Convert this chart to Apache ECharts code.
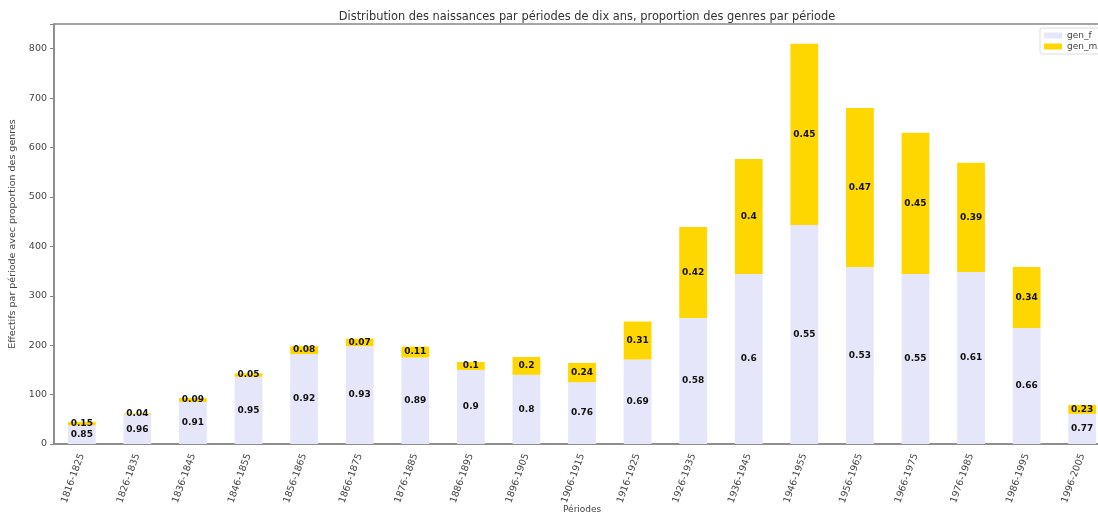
<!DOCTYPE html>
<html>
<head>
<meta charset="utf-8">
<title>Distribution des naissances</title>
<script src="https://cdn.jsdelivr.net/npm/echarts@6.0.0/dist/echarts.min.js"></script>
<style>
	html, body { margin: 0; padding: 0; background: #fff; }
	#main { width: 1098px; height: 517px; }
</style>
</head>
<body>
<div id="main"></div>
<script>
// périodes de dix ans
var periodes = ["1816-1825", "1826-1835", "1836-1845", "1846-1855", "1856-1865", "1866-1875",
	"1876-1885", "1886-1895", "1896-1905", "1906-1915", "1916-1925", "1926-1935", "1936-1945",
	"1946-1955", "1956-1965", "1966-1975", "1976-1985", "1986-1995", "1996-2005"]

// effectifs par genre
var genF = [38, 60, 85, 136, 182, 198, 175, 150, 140, 125, 171, 255, 344, 443, 358, 344, 348, 235, 61]
var genM = [7, 2, 8, 7, 16, 15, 22, 16, 36, 39, 77, 184, 233, 367, 322, 286, 221, 123, 18]

// proportions affichées sur les barres
var propF = [0.85, 0.96, 0.91, 0.95, 0.92, 0.93, 0.89, 0.9, 0.8, 0.76, 0.69, 0.58, 0.6, 0.55, 0.53, 0.55, 0.61, 0.66, 0.77]
var propM = [0.15, 0.04, 0.09, 0.05, 0.08, 0.07, 0.11, 0.1, 0.2, 0.24, 0.31, 0.42, 0.4, 0.45, 0.47, 0.45, 0.39, 0.34, 0.23]

var yTicks = [0, 100, 200, 300, 400, 500, 600, 700, 800]

var font = "DejaVu Sans"

function barLabel(props) {
	return {
		show: true,
		position: 'inside',
		fontFamily: font,
		fontSize: 9,
		fontWeight: 'bold',
		color: '#111',
		formatter: function(p) {
			return String(props[p.dataIndex])
		}
	}
}

var chart = echarts.init(document.getElementById('main'))

var option = {
	animation: false,
	backgroundColor: '#fff',
	title: {
		text: 'Distribution des naissances par périodes de dix ans, proportion des genres par période',
		left: 582,
		top: 7,
		textAlign: 'center',
		textStyle: { fontFamily: font, fontSize: 11.4, fontWeight: 'normal', color: '#333' }
	},
	// titre de l'axe x (placé à la main, le nom d'axe est repoussé hors cadre)
	graphic: [{
		type: 'text',
		left: 563,
		top: 505,
		style: { text: 'Périodes', fontFamily: font, fontSize: 9, fill: '#444' }
	}],
	legend: {
		data: ['gen_f', 'gen_m'],
		orient: 'vertical',
		left: 1040,
		top: 28,
		padding: [3, 6, 3, 4],
		itemGap: 2,
		itemWidth: 18,
		itemHeight: 6,
		borderColor: '#ddd',
		borderWidth: 1,
		borderRadius: 2,
		backgroundColor: '#fff',
		icon: 'rect',
		textStyle: { fontFamily: font, fontSize: 9, color: '#444' }
	},
	grid: {
		show: true,
		left: 54,
		top: 24,
		width: 1056,
		height: 420,
		outerBoundsMode: 'none',
		containLabel: false,
		borderColor: '#888',
		borderWidth: 1.5,
		backgroundColor: 'transparent'
	},
	xAxis: {
		type: 'category',
		data: periodes,
		axisLine: { lineStyle: { color: '#888', width: 1.5 } },
		axisTick: { alignWithLabel: true, length: 4, lineStyle: { color: '#888' } },
		axisLabel: { rotate: 70, fontFamily: font, fontSize: 9.5, color: '#444', margin: 10 }
	},
	yAxis: {
		type: 'value',
		min: yTicks[0],
		max: 850,
		interval: yTicks[1] - yTicks[0],
		name: 'Effectifs par période avec proportion des genres',
		nameLocation: 'middle',
		nameGap: 34,
		nameTextStyle: { fontFamily: font, fontSize: 9.5, color: '#444' },
		axisLine: { show: true, lineStyle: { color: '#888', width: 1.5 } },
		axisTick: { show: true, length: 4, lineStyle: { color: '#888' } },
		axisLabel: {
			fontFamily: font, fontSize: 9.5, color: '#444', margin: 7,
			formatter: function(v) {
				return yTicks.indexOf(v) >= 0 ? String(v) : ''
			}
		},
		splitLine: { show: false }
	},
	series: [{
		name: 'gen_f',
		type: 'bar',
		stack: 'genres',
		barWidth: '50%',
		data: genF,
		itemStyle: { color: '#e6e6fa' },
		label: barLabel(propF)
	}, {
		name: 'gen_m',
		type: 'bar',
		stack: 'genres',
		barWidth: '50%',
		data: genM,
		itemStyle: { color: '#ffd700' },
		label: barLabel(propM)
	}]
}

chart.setOption(option)
</script>
</body>
</html>
